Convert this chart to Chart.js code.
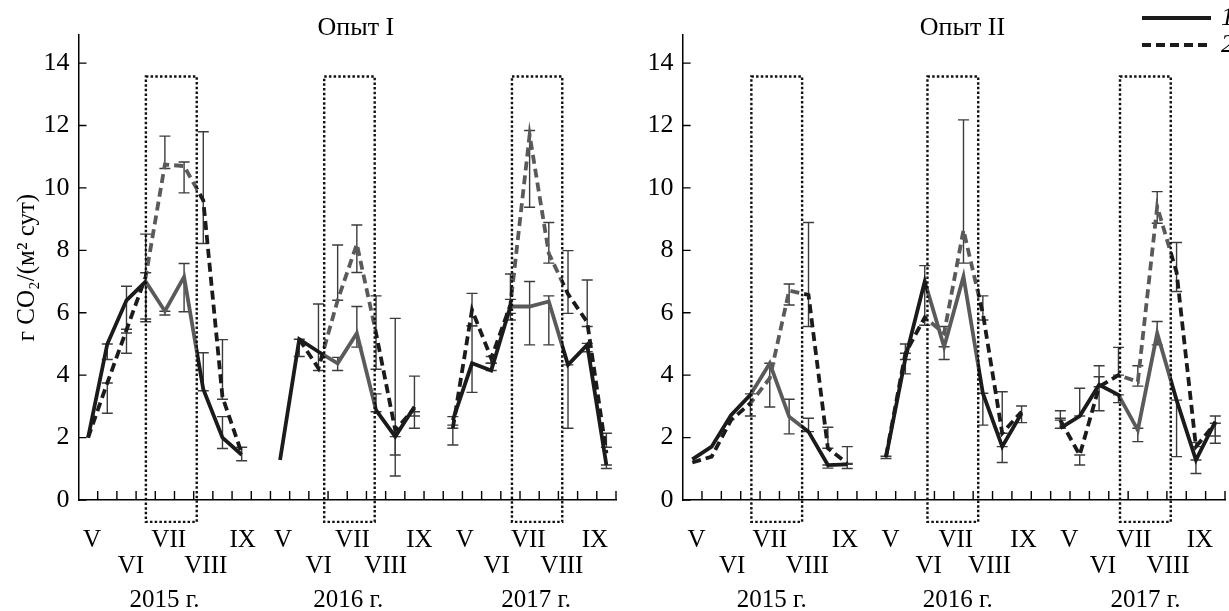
<!DOCTYPE html>
<html>
<head>
<meta charset="utf-8">
<script src="https://cdn.jsdelivr.net/npm/chart.js@4.4.0/dist/chart.umd.min.js"></script>
<style>
    html, body { margin: 0; padding: 0; background: #fff; }
    #wrap { position: relative; width: 1229px; height: 611px; overflow: hidden; }
    canvas { position: absolute; top: 0; }
</style>
</head>
<body>
<div id="wrap">
    <canvas id="exp1" width="625" height="611" style="left:0"></canvas>
    <canvas id="exp2" width="604" height="611" style="left:625px"></canvas>
</div>
<script>
// sampling slots along the time axis (about two weeks each), 3 seasons
const xSlots = [0.5, 1.5, 2.5, 3.5, 4.5, 5.5, 6.5, 7.5, 8.5, 9.5,
    10.5, 11.5, 12.5, 13.5, 14.5, 15.5, 16.5, 17.5, 18.5, 19.5,
    20.5, 21.5, 22.5, 23.5, 24.5, 25.5, 26.5, 27.5];
const years = ['2015 г.', '2016 г.', '2017 г.'];
const months = ['V', 'VI', 'VII', 'VIII', 'IX'];
const legendLabels = ['1', '2'];
const yTitle = 'г CO₂/(м² сут)';

// Опыт I
const exp1Var1 = [2.0, 5.0, 6.4, 7.0, 6.05, 7.15, 3.55, 2.0, 1.45, null,
    1.28, 5.15, 4.75, 4.38, 5.34, 2.88, 2.03, 2.99, null,
    2.56, 4.38, 4.15, 6.2, 6.2, 6.36, 4.33, 4.97, 1.12];
const exp1Var2 = [2.0, 3.75, 5.45, 7.15, 10.75, 10.7, 9.6, 3.3, 1.5, null,
    null, 5.15, 4.22, 6.4, 8.2, 5.35, 2.24, 2.94, null,
    2.3, 6.09, 4.54, 6.25, 11.7, 7.9, 6.6, 5.7, 1.5];
const exp1Err1 = [null, [4.5, 5.0], [5.35, 6.85], [5.8, 7.28], [5.93, 6.05], [6.03, 7.58], [3.5, 4.72], [1.65, 2.67], null, null,
    null, [4.6, 5.15], [4.15, 6.28], [4.15, 4.57], [4.9, 6.2], [2.83, 3.4], [0.77, 2.03], [2.3, 3.97], null,
    [2.4, 2.67], [3.45, 5.58], [4.15, 4.38], [5.77, 6.43], [4.97, 7.0], [4.97, 6.54], [2.3, 4.33], [4.75, 5.02], [1.01, 1.12]];
const exp1Err2 = [null, [2.78, 3.75], [4.7, 5.47], [5.71, 8.52], [10.62, 11.66], [9.84, 10.83], [8.22, 11.8], [3.23, 5.14], [1.26, 1.69], null,
    null, null, null, [6.4, 8.17], [7.29, 8.81], [4.19, 6.54], [1.44, 5.82], [2.69, 2.83], null,
    [1.76, 2.3], [5.58, 6.62], [4.38, 4.6], [5.98, 7.24], [9.38, 11.84], [7.59, 8.89], [5.98, 7.99], [5.56, 7.05], [1.69, 2.14]];

// Опыт II
const exp2Var1 = [1.3, 1.71, 2.72, 3.37, 4.38, 2.67, 2.19, 1.12, 1.14, null,
    1.37, 4.54, 7.0, 4.91, 7.16, 3.42, 1.71, 2.78, null,
    2.3, 2.69, 3.69, 3.37, 2.24, 5.34, 3.2, 1.28, 2.51];
const exp2Var2 = [1.2, 1.39, 2.56, 3.1, 3.9, 6.71, 6.57, 1.66, 1.17, null,
    1.4, 4.7, 5.85, 5.34, 8.65, 5.98, 2.14, 2.83, null,
    2.56, 1.44, 3.63, 4.0, 3.79, 9.4, 7.3, 1.71, 2.46];
const exp2Err1 = [null, null, null, [2.69, 3.4], [2.98, 4.38], [2.12, 3.23], [2.19, 2.62], [1.02, 1.12], [1.01, 1.14], null,
    [1.33, 1.4], [4.04, 5.0], [5.6, 7.51], [4.5, 4.91], null, [2.4, 3.42], [1.2, 1.71], [2.48, 3.01], null,
    [2.3, 2.62], [2.69, 3.58], [2.86, 4.3], [3.12, 3.37], [1.87, 2.3], [4.97, 5.72], [1.39, 3.2], [0.85, 1.28], [2.05, 2.69]];
const exp2Err2 = [null, null, null, null, null, [6.25, 6.92], [5.56, 8.89], [1.66, 2.33], [1.17, 1.71], null,
    null, [4.5, 4.7], null, [5.34, 5.56], [7.59, 12.18], [5.77, 6.54], [2.14, 3.47], null, null,
    [2.56, 2.86], [1.12, 1.44], [3.63, 3.95], [4.0, 4.89], [3.65, 4.3], [8.87, 9.88], [6.68, 8.25], [1.71, 1.84], [1.82, 2.46]];

const BLACK = '#1b1b1b';
const GRAY = '#5a5a5a';
const FONT = '"Liberation Serif", "Times New Roman", serif';

// July windows (dotted boxes), month / year label places, in x-axis units
const panels = [
    {
        id: 'exp1', title: 'Опыт I', var1: exp1Var1, var2: exp1Var2, err1: exp1Err1, err2: exp1Err2,
        boxes: [[3.51, 6.16], [12.8, 15.43], [22.58, 25.2]],
        monthAt: [0.71, 2.73, 4.7, 6.63, 8.55, 10.66, 12.51, 14.27, 16.0, 17.76, 20.12, 21.78, 23.43, 25.18, 26.9],
        yearAt: [4.48, 14.05, 23.84],
        axisLeft: 78.5, padRight: 9, showYTitle: true, showLegend: false
    },
    {
        id: 'exp2', title: 'Опыт II', var1: exp2Var1, var2: exp2Var2, err1: exp2Err1, err2: exp2Err2,
        boxes: [[3.55, 6.17], [12.64, 15.26], [22.58, 25.2]],
        monthAt: [0.72, 2.56, 4.5, 6.44, 8.38, 10.74, 12.7, 14.1, 15.85, 17.6, 19.96, 21.7, 23.3, 25.06, 26.7],
        yearAt: [4.6, 14.2, 23.9],
        axisLeft: 57.6, padRight: 4, showYTitle: false, showLegend: true
    }
];

// black outside the July boxes, gray inside
function bandColor(chart, boxes) {
    const area = chart.chartArea;
    const x = chart.scales.x;
    if (!area || !x) return BLACK;
    const w = area.right - area.left;
    const g = chart.ctx.createLinearGradient(area.left, 0, area.right, 0);
    g.addColorStop(0, BLACK);
    boxes.forEach(([a, b]) => {
        const pa = (x.getPixelForValue(a) - area.left) / w;
        const pb = (x.getPixelForValue(b) - area.left) / w;
        g.addColorStop(pa, BLACK);
        g.addColorStop(pa, GRAY);
        g.addColorStop(pb, GRAY);
        g.addColorStop(pb, BLACK);
    });
    g.addColorStop(1, BLACK);
    return g;
}

function decor(p) {
    return {
        id: 'decor',
        beforeDatasetsDraw(chart) {
            // error bars
            const { ctx, scales: { x, y } } = chart;
            ctx.save();
            ctx.strokeStyle = '#3c3c3c';
            ctx.lineWidth = 1.4;
            [p.err1, p.err2].forEach(errs => errs.forEach((e, i) => {
                if (!e) return;
                const px = x.getPixelForValue(xSlots[i]);
                const lo = y.getPixelForValue(e[0]);
                const hi = y.getPixelForValue(e[1]);
                ctx.beginPath();
                ctx.moveTo(px, lo); ctx.lineTo(px, hi);
                ctx.moveTo(px - 5.5, lo); ctx.lineTo(px + 5.5, lo);
                ctx.moveTo(px - 5.5, hi); ctx.lineTo(px + 5.5, hi);
                ctx.stroke();
            }));
            ctx.restore();
        },
        afterDraw(chart) {
            const { ctx, scales: { x, y } } = chart;
            const y0 = y.getPixelForValue(0);
            ctx.save();

            // inner tick marks
            ctx.strokeStyle = '#000';
            ctx.lineWidth = 1.4;
            ctx.beginPath();
            y.ticks.forEach(t => {
                const py = y.getPixelForValue(t.value);
                ctx.moveTo(x.left, py); ctx.lineTo(x.left + 8, py);
            });
            for (let k = 1; k <= 28; k++) {
                const px = x.getPixelForValue(k);
                ctx.moveTo(px, y0); ctx.lineTo(px, y0 - 9);
            }
            ctx.stroke();

            // dotted July boxes
            ctx.setLineDash([2.5, 2.2]);
            ctx.lineWidth = 2.4;
            ctx.strokeStyle = '#111';
            const top = y.getPixelForValue(13.57);
            const bottom = y.getPixelForValue(-0.7);
            p.boxes.forEach(([a, b]) => {
                const l = x.getPixelForValue(a);
                const r = x.getPixelForValue(b);
                ctx.strokeRect(l, top, r - l, bottom - top);
            });
            ctx.setLineDash([]);

            // month and year labels
            ctx.fillStyle = '#000';
            ctx.textAlign = 'center';
            ctx.textBaseline = 'middle';
            ctx.font = '25px ' + FONT;
            p.monthAt.forEach((v, k) => {
                const m = k % months.length;
                ctx.fillText(months[m], x.getPixelForValue(v), m % 2 ? 566 : 540);
            });
            p.yearAt.forEach((v, k) => {
                ctx.fillText(years[k], x.getPixelForValue(v), 600);
            });

            // panel title
            ctx.font = '26px ' + FONT;
            ctx.fillText(p.title, x.getPixelForValue(14.45), 28);

            // legend
            if (p.showLegend) {
                ctx.lineWidth = 3.8;
                ctx.strokeStyle = BLACK;
                ctx.beginPath();
                ctx.moveTo(517, 18); ctx.lineTo(586, 18);
                ctx.stroke();
                ctx.setLineDash([9, 5]);
                ctx.beginPath();
                ctx.moveTo(517, 45); ctx.lineTo(586, 45);
                ctx.stroke();
                ctx.setLineDash([]);
                ctx.textAlign = 'left';
                ctx.font = 'italic 26px ' + FONT;
                ctx.fillText(legendLabels[0], 596, 18);
                ctx.fillText(legendLabels[1], 596, 45);
            }
            ctx.restore();
        }
    };
}

panels.forEach(p => {
    new Chart(document.getElementById(p.id), {
        type: 'line',
        data: {
            datasets: [
                {
                    data: xSlots.map((x, i) => ({ x, y: p.var1[i] })),
                    borderColor: c => bandColor(c.chart, p.boxes),
                    borderWidth: 3.8,
                    pointRadius: 0,
                    tension: 0,
                    spanGaps: false
                },
                {
                    data: xSlots.map((x, i) => ({ x, y: p.var2[i] })),
                    borderColor: c => bandColor(c.chart, p.boxes),
                    borderWidth: 3.8,
                    borderDash: [9, 5],
                    pointRadius: 0,
                    tension: 0,
                    spanGaps: false
                }
            ]
        },
        options: {
            responsive: false,
            animation: false,
            devicePixelRatio: 1,
            layout: { padding: { top: 35, bottom: 111, left: 0, right: p.padRight } },
            plugins: {
                legend: { display: false },
                tooltip: { enabled: false },
                title: { display: false }
            },
            scales: {
                x: {
                    type: 'linear',
                    min: 0,
                    max: 28,
                    ticks: { display: false },
                    grid: { display: false, drawTicks: false },
                    border: { display: true, color: '#000', width: 1.5 },
                    afterFit: s => { s.height = 0; }
                },
                y: {
                    min: 0,
                    max: 14.9,
                    ticks: {
                        stepSize: 2,
                        includeBounds: false,
                        color: '#000',
                        padding: 9,
                        font: { family: FONT, size: 26 }
                    },
                    grid: { display: false, drawTicks: false },
                    border: { display: true, color: '#000', width: 1.5 },
                    title: {
                        display: p.showYTitle,
                        text: yTitle,
                        color: '#000',
                        padding: { top: 12, bottom: 0 },
                        font: { family: FONT, size: 25 }
                    },
                    afterFit: s => { s.width = p.axisLeft; }
                }
            }
        },
        plugins: [decor(p)]
    });
});
</script>
</body>
</html>
